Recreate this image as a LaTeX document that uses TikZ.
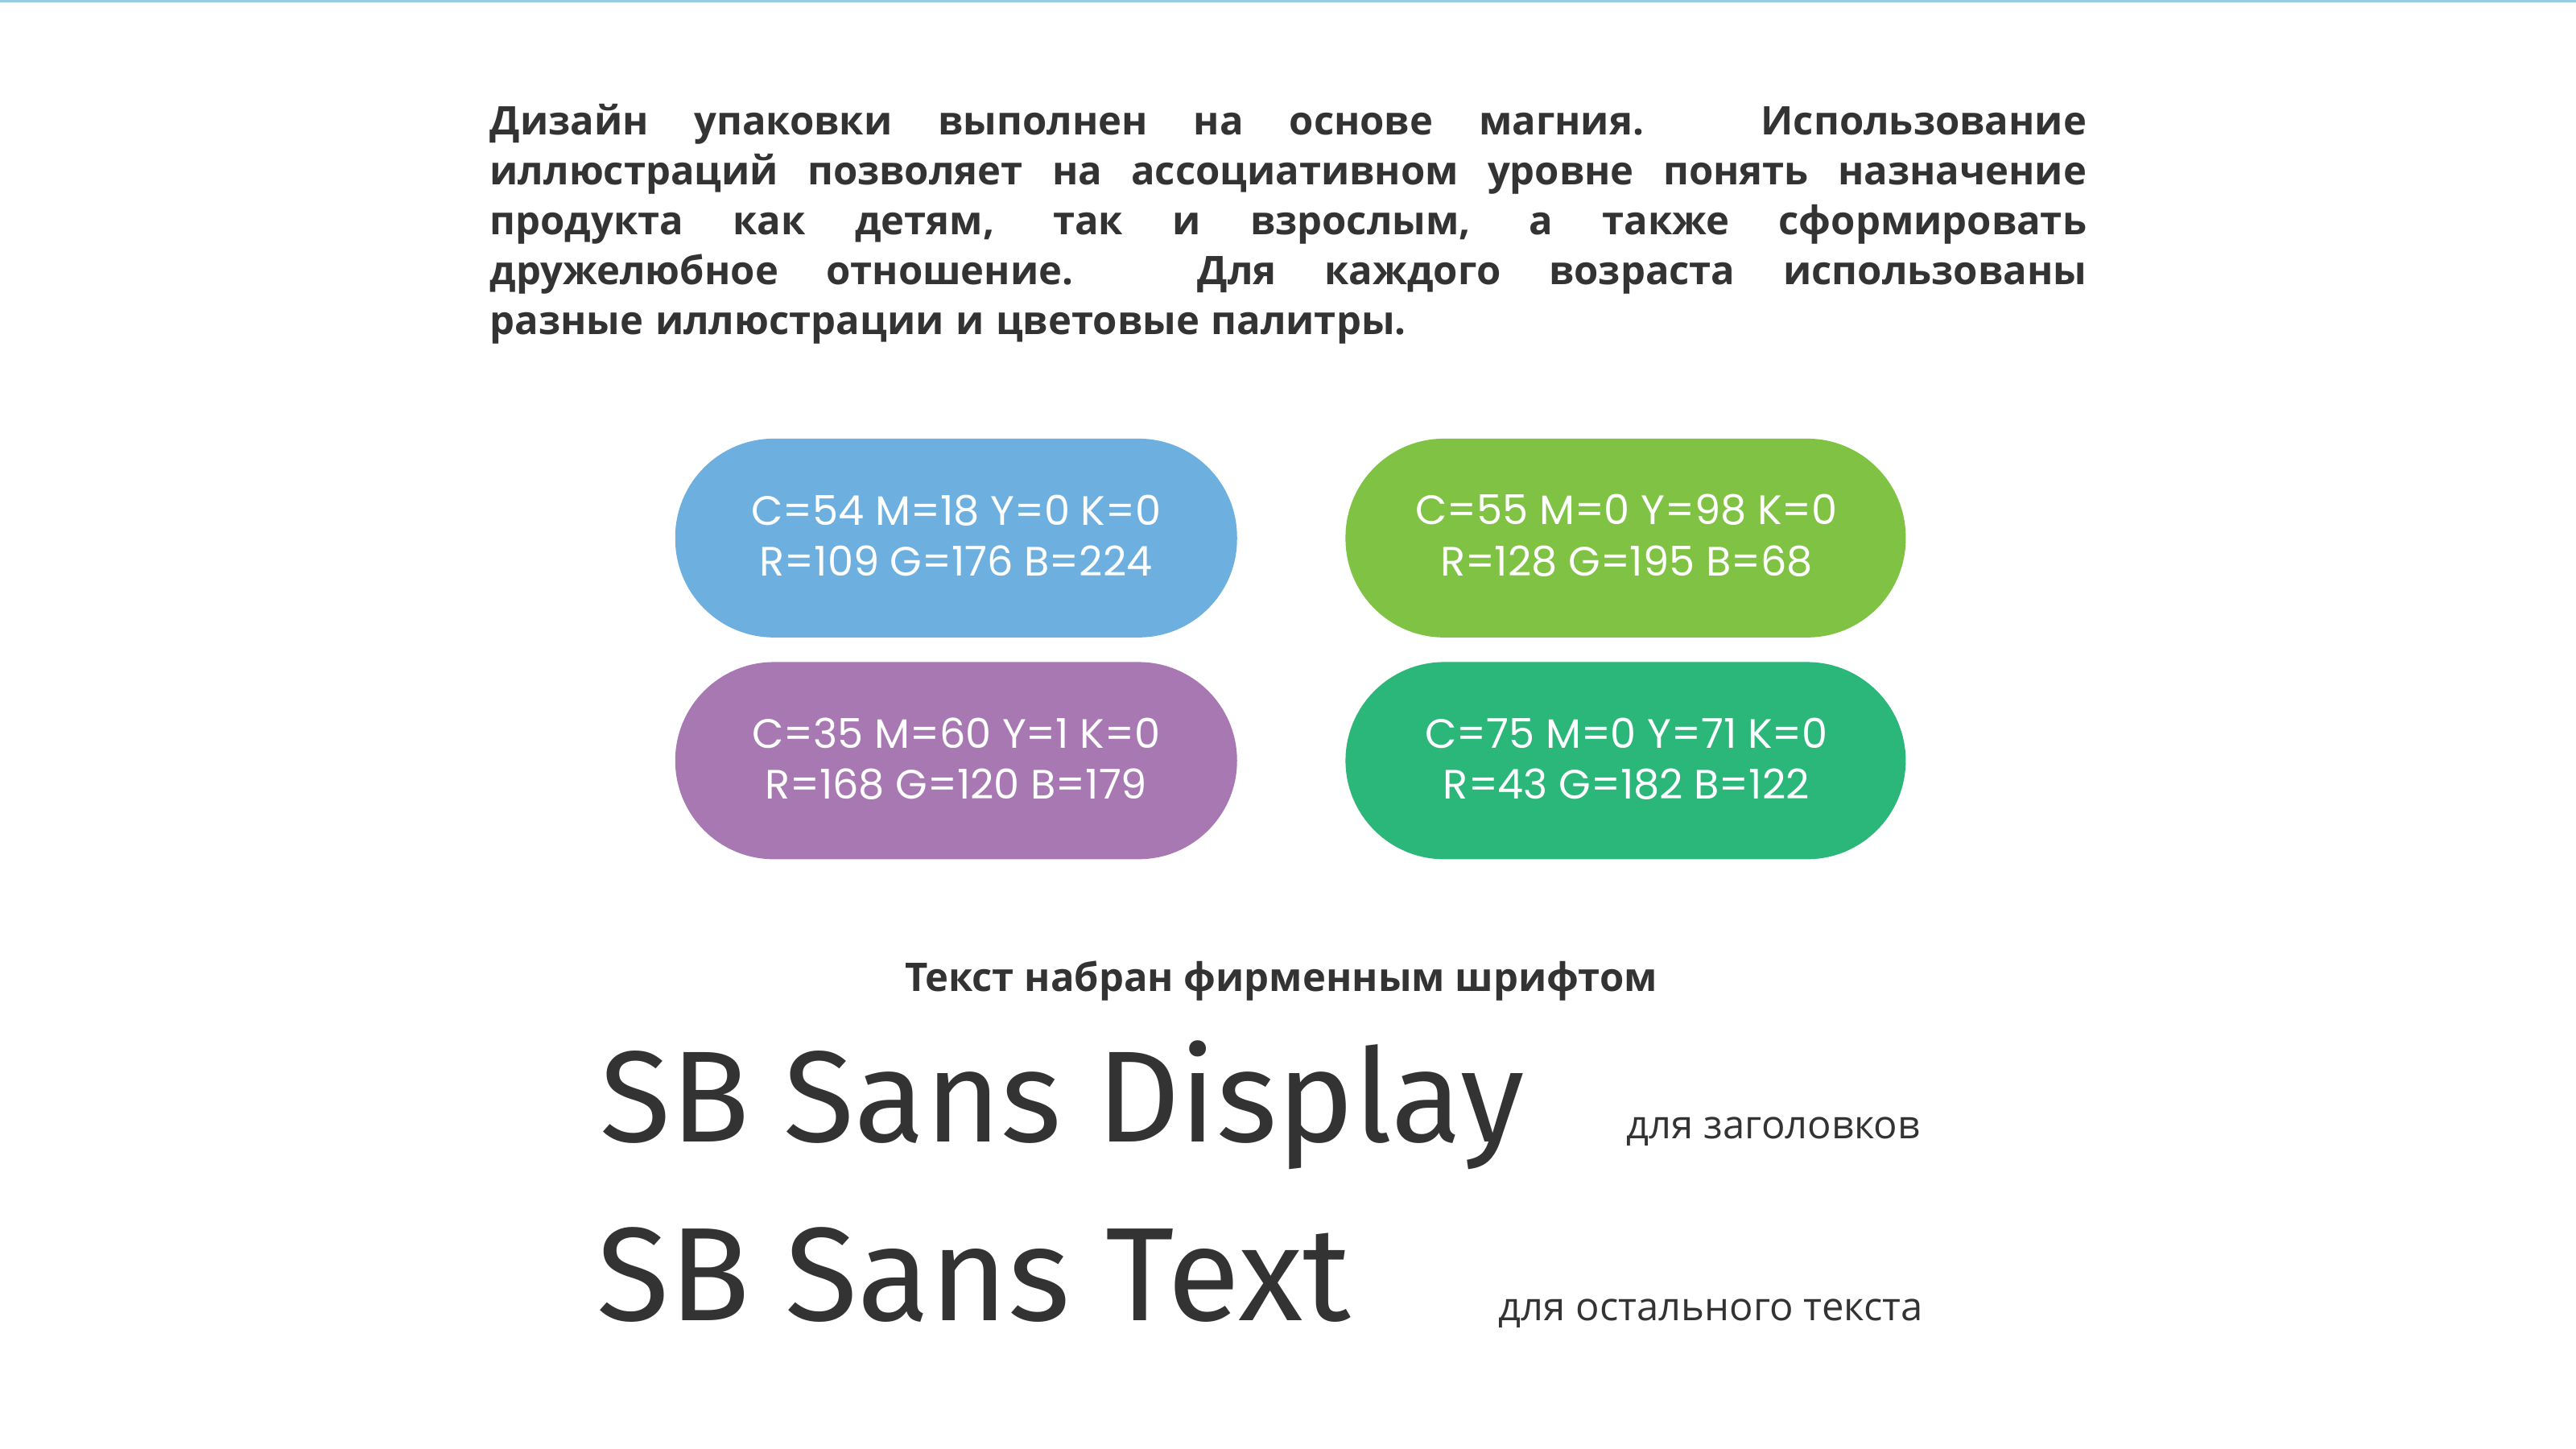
\documentclass[tikz,border=0pt]{standalone}
\usepackage{fontspec}
\setmainfont{Open Sans}
\newfontfamily\pop{Poppins}
\newfontfamily\sbfont{Fira Sans}
\definecolor{tx}{RGB}{51,51,51}
\definecolor{cb}{RGB}{109,176,224}
\definecolor{cg}{RGB}{128,195,68}
\definecolor{cp}{RGB}{168,120,179}
\definecolor{ct}{RGB}{43,182,122}
\definecolor{topl}{RGB}{150,205,225}
\begin{document}
\begin{tikzpicture}[x=1pt,y=-1pt,
 pill/.style={rounded corners=60pt,draw=none},
 ptxt/.style={text=white,font=\pop\fontsize{25}{31}\selectfont,align=center}]
\useasboundingbox[fill=white] (0,0) rectangle (1568,882);
\draw[topl,line width=1.5pt] (0,0.7) -- (1568,0.7);
\node[anchor=north west,inner sep=0,text=tx,font=\fontsize{24}{30.4}\selectfont\bfseries] (par) at (298,63)
 {\parbox{972pt}{\spaceskip=0.3em plus 3em\relax Дизайн упаковки выполнен на основе магния. Использование\linebreak иллюстраций позволяет на ассоциативном уровне понять назначение\linebreak продукта как детям, так и взрослым, а также сформировать\linebreak дружелюбное отношение. Для каждого возраста использованы\linebreak разные иллюстрации и цветовые палитры.}};
\fill[cb,pill] (411,267) rectangle (753,388);
\fill[cg,pill] (819,267) rectangle (1160,388);
\fill[cp,pill] (411,403) rectangle (753,523);
\fill[ct,pill] (819,403) rectangle (1160,523);
\node[ptxt] (t1) at (582,326) {C=54 M=18 Y=0 K=0\\R=109 G=176 B=224};
\node[ptxt] (t2) at (990,326) {C=55 M=0 Y=98 K=0\\R=128 G=195 B=68};
\node[ptxt] (t3) at (582,462) {C=35 M=60 Y=1 K=0\\R=168 G=120 B=179};
\node[ptxt] (t4) at (990,462) {C=75 M=0 Y=71 K=0\\R=43 G=182 B=122};
\node[text=tx,font=\fontsize{24}{28}\selectfont\bfseries] (h) at (780,597) {Текст набран фирменным шрифтом};
\node[text=tx,font=\sbfont\fontsize{79}{90}\selectfont,anchor=base west,inner sep=0] (d) at (365,695) {SB Sans Display};
\node[text=tx,font=\fontsize{24}{28}\selectfont,anchor=base west,inner sep=0] (d2) at (990,693) {для заголовков};
\node[text=tx,font=\sbfont\fontsize{81}{90}\selectfont,anchor=base west,inner sep=0] (s) at (363,804) {SB Sans Text};
\node[text=tx,font=\fontsize{24}{28}\selectfont,anchor=base west,inner sep=0] (s2) at (912,804) {для остального текста};
\end{tikzpicture}
\end{document}
